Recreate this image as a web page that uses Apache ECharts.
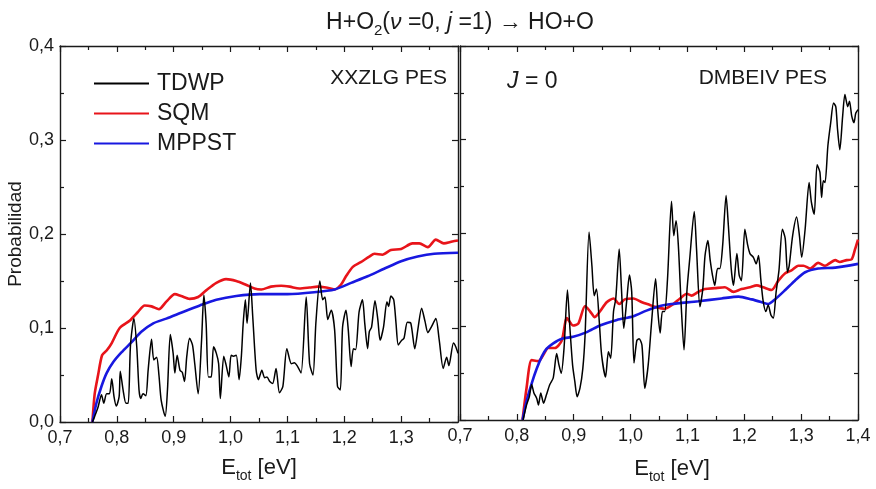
<!DOCTYPE html>
<html>
<head>
<meta charset="utf-8">
<script src="https://cdn.jsdelivr.net/npm/echarts@6/dist/echarts.min.js"></script>
<style>html,body{margin:0;padding:0;background:#fff}#c{width:876px;height:489px}</style>
</head>
<body>
<div id="c"></div>
<script>
// ---- data (E_tot [eV], Probabilidad) ----
const xTicks = [0.7, 0.8, 0.9, 1.0, 1.1, 1.2, 1.3, 1.4];
const yTicks = [0.0, 0.1, 0.2, 0.3, 0.4];
const seriesNames = ['TDWP', 'SQM', 'MPPST'];
const panelLabels = ['XXZLG PES', 'DMBEIV PES'];

const tdwpXXZLG = [[0.757,0],[0.761,0.006],[0.767,0.016],[0.773,0.029],[0.777,0.020],[0.782,0.030],[0.787,0.030],[0.791,0.046],[0.795,0.027],[0.799,0.017],[0.804,0.027],[0.806,0.054],[0.811,0.034],[0.816,0.020],[0.820,0.020],[0.824,0.082],[0.830,0.110],[0.835,0.080],[0.839,0.034],[0.842,0.025],[0.846,0.030],[0.851,0.028],[0.855,0.055],[0.861,0.088],[0.865,0.066],[0.870,0.069],[0.874,0.050],[0.878,0.023],[0.885,0.006],[0.889,0.034],[0.894,0.093],[0.899,0.073],[0.902,0.052],[0.906,0.071],[0.911,0.055],[0.915,0.053],[0.919,0.043],[0.923,0.070],[0.928,0.089],[0.933,0.082],[0.937,0.062],[0.943,0.030],[0.949,0.087],[0.953,0.135],[0.957,0.105],[0.961,0.048],[0.966,0.048],[0.970,0.080],[0.975,0.073],[0.979,0.062],[0.982,0.025],[0.988,0.070],[0.992,0.061],[0.997,0.048],[1.001,0.071],[1.005,0.070],[1.010,0.071],[1.015,0.045],[1.019,0.070],[1.022,0.103],[1.026,0.130],[1.029,0.105],[1.035,0.148],[1.039,0.112],[1.045,0.055],[1.049,0.045],[1.055,0.055],[1.060,0.047],[1.064,0.048],[1.069,0.043],[1.074,0.041],[1.080,0.057],[1.086,0.031],[1.092,0.038],[1.099,0.078],[1.107,0.062],[1.112,0.063],[1.118,0.059],[1.124,0.052],[1.133,0.133],[1.139,0.062],[1.145,0.050],[1.150,0.105],[1.157,0.150],[1.162,0.130],[1.166,0.133],[1.171,0.109],[1.177,0.119],[1.183,0.098],[1.188,0.038],[1.193,0.034],[1.197,0.101],[1.203,0.119],[1.207,0.098],[1.212,0.059],[1.216,0.078],[1.220,0.077],[1.226,0.117],[1.232,0.130],[1.236,0.105],[1.241,0.078],[1.244,0.096],[1.248,0.101],[1.254,0.129],[1.259,0.109],[1.263,0.087],[1.269,0.101],[1.275,0.128],[1.278,0.123],[1.282,0.134],[1.287,0.130],[1.291,0.105],[1.295,0.082],[1.301,0.087],[1.305,0.089],[1.311,0.106],[1.317,0.105],[1.324,0.078],[1.330,0.101],[1.336,0.121],[1.342,0.107],[1.347,0.095],[1.353,0.101],[1.361,0.110],[1.367,0.087],[1.374,0.057],[1.380,0.069],[1.384,0.060],[1.392,0.084],[1.396,0.080],[1.400,0.073]];

const sqmXXZLG = [[0.757,0],[0.761,0.030],[0.767,0.050],[0.774,0.071],[0.782,0.076],[0.791,0.084],[0.805,0.100],[0.823,0.108],[0.837,0.117],[0.849,0.124],[0.861,0.123],[0.874,0.120],[0.887,0.128],[0.902,0.136],[0.913,0.134],[0.928,0.131],[0.943,0.133],[0.957,0.140],[0.975,0.148],[0.992,0.152],[1.010,0.150],[1.027,0.146],[1.042,0.142],[1.054,0.141],[1.071,0.144],[1.089,0.145],[1.104,0.144],[1.121,0.142],[1.139,0.143],[1.153,0.144],[1.168,0.143],[1.183,0.141],[1.194,0.146],[1.203,0.155],[1.215,0.165],[1.229,0.170],[1.244,0.176],[1.253,0.179],[1.267,0.178],[1.282,0.183],[1.300,0.184],[1.320,0.190],[1.332,0.190],[1.347,0.186],[1.361,0.194],[1.375,0.190],[1.390,0.192],[1.400,0.193]];

const mppstXXZLG = [[0.757,0],[0.764,0.020],[0.773,0.038],[0.782,0.052],[0.794,0.064],[0.808,0.074],[0.826,0.085],[0.843,0.096],[0.864,0.105],[0.887,0.110],[0.916,0.117],[0.946,0.124],[0.975,0.130],[1.010,0.134],[1.051,0.136],[1.100,0.136],[1.147,0.138],[1.183,0.141],[1.212,0.148],[1.241,0.155],[1.270,0.163],[1.300,0.171],[1.329,0.176],[1.358,0.179],[1.400,0.180]];

const tdwpDMBEIV = [[0.811,0],[0.817,0.016],[0.822,0.025],[0.826,0.038],[0.830,0.029],[0.835,0.023],[0.838,0.016],[0.842,0.029],[0.847,0.018],[0.852,0.027],[0.858,0.038],[0.864,0.045],[0.870,0.071],[0.874,0.059],[0.878,0.050],[0.883,0.077],[0.889,0.139],[0.893,0.101],[0.898,0.059],[0.902,0.041],[0.906,0.025],[0.911,0.034],[0.916,0.055],[0.920,0.091],[0.927,0.201],[0.932,0.165],[0.936,0.133],[0.940,0.140],[0.945,0.105],[0.949,0.070],[0.956,0.046],[0.961,0.073],[0.965,0.066],[0.970,0.116],[0.974,0.130],[0.980,0.183],[0.984,0.140],[0.988,0.098],[0.993,0.126],[0.998,0.155],[1.002,0.137],[1.006,0.061],[1.011,0.085],[1.015,0.087],[1.020,0.080],[1.025,0.034],[1.031,0.059],[1.037,0.105],[1.044,0.151],[1.048,0.116],[1.052,0.093],[1.056,0.116],[1.060,0.116],[1.065,0.151],[1.072,0.234],[1.076,0.197],[1.080,0.213],[1.084,0.187],[1.089,0.123],[1.094,0.075],[1.099,0.137],[1.104,0.172],[1.112,0.223],[1.116,0.183],[1.122,0.121],[1.127,0.140],[1.131,0.176],[1.136,0.192],[1.140,0.171],[1.144,0.155],[1.148,0.144],[1.153,0.162],[1.157,0.162],[1.162,0.187],[1.168,0.240],[1.172,0.208],[1.177,0.162],[1.181,0.144],[1.187,0.178],[1.191,0.155],[1.195,0.149],[1.201,0.204],[1.206,0.187],[1.210,0.178],[1.216,0.174],[1.221,0.167],[1.225,0.176],[1.229,0.151],[1.233,0.128],[1.238,0.116],[1.242,0.123],[1.247,0.112],[1.251,0.109],[1.256,0.137],[1.261,0.160],[1.267,0.204],[1.272,0.194],[1.276,0.158],[1.279,0.165],[1.285,0.197],[1.292,0.217],[1.297,0.197],[1.301,0.174],[1.307,0.204],[1.314,0.254],[1.318,0.233],[1.323,0.220],[1.328,0.273],[1.333,0.265],[1.336,0.238],[1.339,0.256],[1.342,0.254],[1.347,0.293],[1.352,0.318],[1.357,0.339],[1.361,0.335],[1.364,0.311],[1.368,0.289],[1.373,0.325],[1.377,0.348],[1.382,0.335],[1.385,0.341],[1.389,0.325],[1.393,0.318],[1.396,0.328],[1.400,0.332]];

const sqmDMBEIV = [[0.810,0],[0.817,0.034],[0.826,0.064],[0.838,0.063],[0.847,0.070],[0.855,0.077],[0.867,0.077],[0.879,0.085],[0.888,0.109],[0.899,0.101],[0.908,0.103],[0.920,0.122],[0.929,0.116],[0.937,0.110],[0.946,0.116],[0.958,0.126],[0.970,0.130],[0.980,0.124],[0.990,0.129],[1.005,0.130],[1.020,0.126],[1.034,0.123],[1.043,0.121],[1.060,0.119],[1.075,0.124],[1.087,0.130],[1.099,0.135],[1.107,0.133],[1.119,0.137],[1.131,0.140],[1.148,0.141],[1.166,0.142],[1.181,0.137],[1.195,0.140],[1.210,0.142],[1.222,0.144],[1.233,0.142],[1.248,0.139],[1.260,0.149],[1.272,0.157],[1.283,0.160],[1.295,0.165],[1.304,0.165],[1.316,0.162],[1.330,0.168],[1.342,0.165],[1.360,0.171],[1.368,0.169],[1.380,0.171],[1.389,0.172],[1.395,0.183],[1.400,0.193]];

const mppstDMBEIV = [[0.810,0],[0.817,0.020],[0.826,0.039],[0.835,0.055],[0.844,0.068],[0.852,0.076],[0.864,0.082],[0.879,0.087],[0.899,0.089],[0.923,0.094],[0.946,0.101],[0.976,0.107],[1.005,0.111],[1.028,0.117],[1.052,0.122],[1.072,0.124],[1.119,0.127],[1.160,0.130],[1.190,0.132],[1.213,0.129],[1.231,0.126],[1.242,0.124],[1.254,0.129],[1.272,0.139],[1.289,0.149],[1.307,0.158],[1.330,0.162],[1.360,0.163],[1.400,0.167]];

// ---- chart ----
const FONT = '"Liberation Sans", Arial, Helvetica, sans-serif';
const INK = '#1a1a1a';
const colors = ['#000000', '#e8141a', '#1818e0'];
const widths = [1.5, 2.6, 2.6];
const comma = v => (+v).toFixed(1).replace('.', ',');

const xMin = xTicks[0], xMax = xTicks[xTicks.length - 1];
const yMin = yTicks[0], yMax = yTicks[yTicks.length - 1];

function xAx(grid, pos, labels, showMax) {
  return {
    type: 'value', gridIndex: grid, position: pos, min: xMin, max: xMax, interval: 0.1,
    axisLine: {show: true, onZero: false, lineStyle: {color: INK, width: 1.4}},
    axisTick: {show: true, inside: true, length: 6, lineStyle: {color: INK, width: 1.2}},
    minorTick: {show: true, splitNumber: 2, length: 4, lineStyle: {color: INK, width: 1.2}},
    splitLine: {show: false},
    axisLabel: {show: labels, showMaxLabel: showMax, showMinLabel: true, margin: 7, formatter: comma,
      color: INK, fontSize: 18, fontFamily: FONT},
    name: labels ? '{a|E}{b|tot}{a| [eV]}' : '',
    nameLocation: 'middle', nameGap: grid === 0 ? 31 : 34,
    nameTextStyle: {
      padding: grid === 0 ? 0 : [0, 0, 0, 26],
      rich: {
        a: {fontSize: 22, fontFamily: FONT, color: INK, lineHeight: 30, verticalAlign: 'middle'},
        b: {fontSize: 14, fontFamily: FONT, color: INK, lineHeight: 6, verticalAlign: 'bottom'}
      }
    }
  };
}
function yAx(grid, pos, labels) {
  return {
    type: 'value', gridIndex: grid, position: pos, min: yMin, max: yMax, interval: 0.1,
    axisLine: {show: true, onZero: false, lineStyle: {color: INK, width: 1.4}},
    axisTick: {show: true, inside: true, length: 6, lineStyle: {color: INK, width: 1.2}},
    minorTick: {show: true, splitNumber: 2, length: 4, lineStyle: {color: INK, width: 1.2}},
    splitLine: {show: false},
    axisLabel: {show: labels, margin: 6, formatter: comma, color: INK, fontSize: 18, fontFamily: FONT},
    name: labels ? 'Probabilidad' : '',
    nameLocation: 'middle', nameGap: 33, nameRotate: 90,
    nameTextStyle: {fontSize: 19, fontFamily: FONT, color: INK}
  };
}
function line(name, data, xi, yi, k) {
  return {
    name: name, type: 'line', data: data, xAxisIndex: xi, yAxisIndex: yi,
    symbol: 'none', showSymbol: false, smooth: 0.25, z: k === 0 ? 4 : 3,
    lineStyle: {color: colors[k], width: widths[k]}, itemStyle: {color: colors[k]}
  };
}

const chart = echarts.init(document.getElementById('c'), null, {renderer: 'canvas'});
chart.setOption({
  animation: false,
  backgroundColor: '#ffffff',
  title: {
    text: '{a|H+O}{s|2}{a|(}{i|ν}{a| =0, }{i|j}{a| =1) → HO+O}',
    left: 455, top: 3, textAlign: 'center',
    textStyle: {
      fontWeight: 'normal',
      rich: {
        a: {fontSize: 23, fontFamily: FONT, fontWeight: 'normal', color: INK, lineHeight: 30, verticalAlign: 'middle'},
        i: {fontSize: 23, fontFamily: FONT, fontWeight: 'normal', color: INK, fontStyle: 'italic', lineHeight: 30, verticalAlign: 'middle'},
        s: {fontSize: 15, fontFamily: FONT, fontWeight: 'normal', color: INK, lineHeight: 7, verticalAlign: 'bottom'}
      }
    }
  },
  legend: {
    data: seriesNames, orient: 'vertical', left: 93, top: 72, padding: 0,
    itemWidth: 55, itemHeight: 14, itemGap: 7,
    itemStyle: {opacity: 0, borderWidth: 0},
    textStyle: {fontSize: 23, fontFamily: FONT, color: INK, padding: [0, 0, 0, 3]}
  },
  grid: [
    {left: 60, top: 46, width: 398, height: 376},
    {left: 460, top: 46, width: 398, height: 376}
  ],
  xAxis: [xAx(0, 'bottom', true, false), xAx(0, 'top', false, false), xAx(1, 'bottom', true, true), xAx(1, 'top', false, false)],
  yAxis: [yAx(0, 'left', true), yAx(0, 'right', false), yAx(1, 'left', false), yAx(1, 'right', false)],
  series: [
    line(seriesNames[1], sqmXXZLG, 0, 0, 1),
    line(seriesNames[2], mppstXXZLG, 0, 0, 2),
    line(seriesNames[0], tdwpXXZLG, 0, 0, 0),
    line(seriesNames[1], sqmDMBEIV, 2, 2, 1),
    line(seriesNames[2], mppstDMBEIV, 2, 2, 2),
    line(seriesNames[0], tdwpDMBEIV, 2, 2, 0)
  ],
  graphic: [
    {type: 'text', x: 447, y: 78, style: {text: panelLabels[0], font: '21px ' + FONT, fill: INK, textAlign: 'right', textVerticalAlign: 'middle'}},
    {type: 'text', x: 507, y: 82, style: {text: '{i|J} = 0', fill: INK, textVerticalAlign: 'middle',
      rich: {i: {fontStyle: 'italic', fontSize: 23, fontFamily: FONT}}, fontSize: 23, fontFamily: FONT}},
    {type: 'text', x: 827, y: 78, style: {text: panelLabels[1], font: '21px ' + FONT, fill: INK, textAlign: 'right', textVerticalAlign: 'middle'}}
  ]
});
</script>
</body>
</html>
